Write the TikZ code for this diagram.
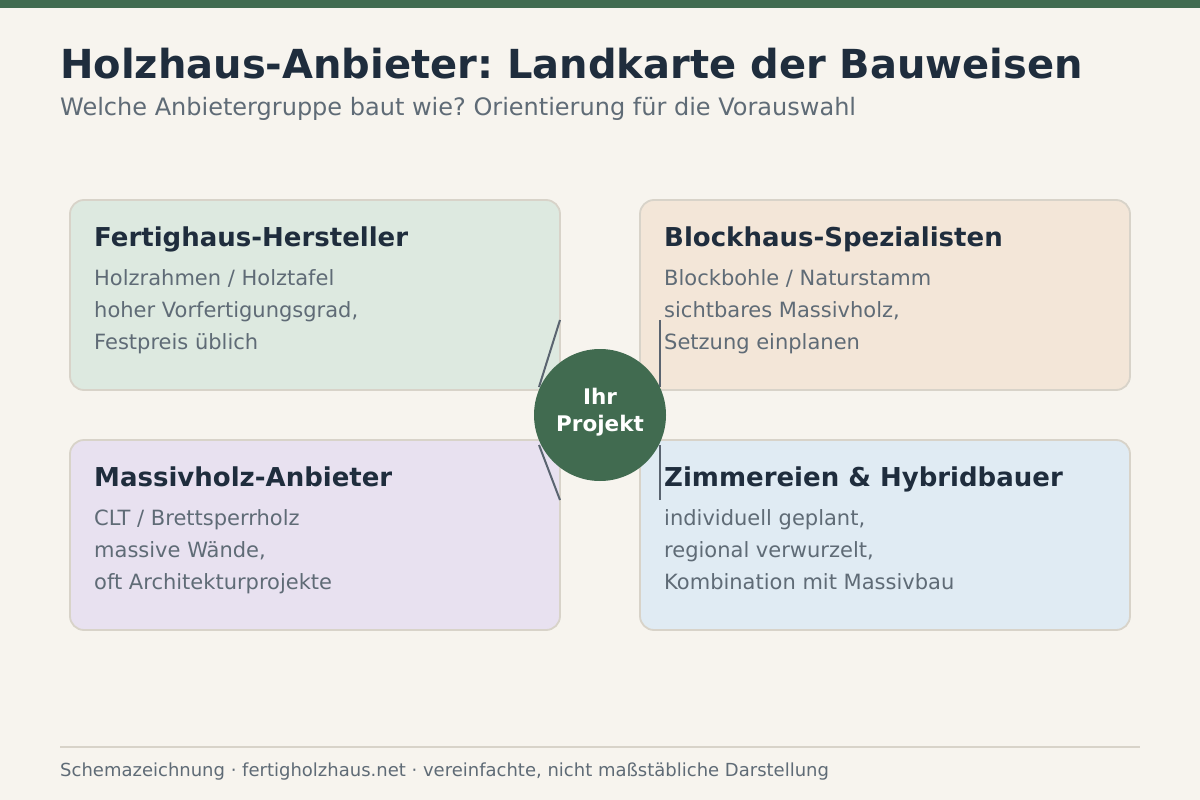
\documentclass[tikz,border=0pt]{standalone}
\usepackage{fontspec}
\setmainfont{DejaVu Sans}
\frenchspacing
\definecolor{bg}{HTML}{F7F4EE}
\definecolor{topbar}{HTML}{416B50}
\definecolor{titlec}{HTML}{1F2D3D}
\definecolor{subc}{HTML}{5F6B76}
\definecolor{boxline}{HTML}{D8D3C9}
\definecolor{fgreen}{HTML}{DDE9E0}
\definecolor{forange}{HTML}{F3E6D8}
\definecolor{fpurple}{HTML}{E8E1F0}
\definecolor{fblue}{HTML}{E0EBF3}
\definecolor{conn}{HTML}{5A6470}
\begin{document}
\begin{tikzpicture}[x=1pt,y=-1pt,
  card/.style={draw=boxline,line width=1.8pt,rounded corners=14pt},
  head/.style={anchor=base west,inner sep=0pt,text=titlec,font=\fontsize{26}{30}\selectfont\bfseries},
  body/.style={anchor=base west,inner sep=0pt,text=subc,font=\fontsize{21}{26}\selectfont},
  link/.style={draw=conn,line width=2pt}]
\useasboundingbox (0,0) rectangle (1200,800);
\fill[bg] (0,0) rectangle (1200,800);
\fill[topbar] (0,0) rectangle (1200,8);
\node[anchor=base west,inner sep=0pt,text=titlec,font=\fontsize{40}{46}\selectfont\bfseries] (title) at (60,78) {Holzhaus-Anbieter: Landkarte der Bauweisen};
\node[anchor=base west,inner sep=0pt,text=subc,font=\fontsize{24}{28}\selectfont] (sub) at (60,115) {Welche Anbietergruppe baut wie? Orientierung für die Vorauswahl};

\path[card,fill=fgreen] (70,200) rectangle (560,390);
\path[card,fill=forange] (640,200) rectangle (1130,390);
\path[card,fill=fpurple] (70,440) rectangle (560,630);
\path[card,fill=fblue] (640,440) rectangle (1130,630);

\node[head] (h1) at (94,246) {Fertighaus-Hersteller};
\node[body] (b1a) at (94,285) {Holzrahmen / Holztafel};
\node[body] (b1b) at (94,317) {hoher Vorfertigungsgrad,};
\node[body] (b1c) at (94,349) {Festpreis üblich};
\node[head] (h2) at (664,246) {Blockhaus-Spezialisten};
\node[body] (b2a) at (664,285) {Blockbohle / Naturstamm};
\node[body] (b2b) at (664,317) {sichtbares Massivholz,};
\node[body] (b2c) at (664,349) {Setzung einplanen};
\node[head] (h3) at (94,486) {Massivholz-Anbieter};
\node[body] (b3a) at (94,525) {CLT / Brettsperrholz};
\node[body] (b3b) at (94,557) {massive Wände,};
\node[body] (b3c) at (94,589) {oft Architekturprojekte};
\node[head] (h4) at (664,486) {Zimmereien \& Hybridbauer};
\node[body] (b4a) at (664,525) {individuell geplant,};
\node[body] (b4b) at (664,557) {regional verwurzelt,};
\node[body] (b4c) at (664,589) {Kombination mit Massivbau};

\coordinate (c1a) at (560,320); \coordinate (c1b) at (539,387);
\coordinate (c2a) at (660,320); \coordinate (c2b) at (660,387);
\coordinate (c3a) at (539,445); \coordinate (c3b) at (560,500);
\coordinate (c4a) at (660,445); \coordinate (c4b) at (660,500);
\draw[link] (c1a) -- (c1b);
\draw[link] (c2a) -- (c2b);
\draw[link] (c3a) -- (c3b);
\draw[link] (c4a) -- (c4b);

\fill[topbar] (600,415) circle (66);
\node[text=white,align=center,font=\fontsize{21.5}{27}\selectfont\bfseries] (hub) at (600,412) {Ihr\\Projekt};

\draw[boxline,line width=1.5pt] (60,747) -- (1140,747);
\node[anchor=base west,inner sep=0pt,text=subc,font=\fontsize{18}{20}\selectfont] (foot) at (60,776) {Schemazeichnung · fertigholzhaus.net · vereinfachte, nicht maßstäbliche Darstellung};
\end{tikzpicture}
\end{document}
